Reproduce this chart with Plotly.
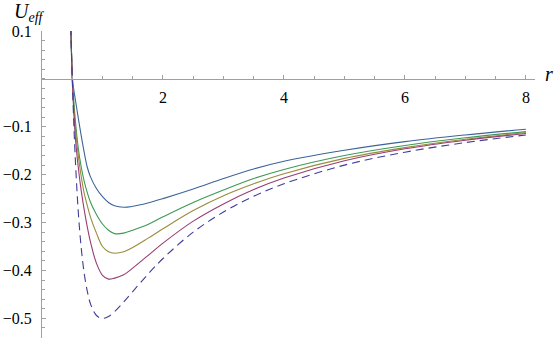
import plotly.graph_objects as go

# radius samples
r = [0.46, 0.48, 0.50, 0.52, 0.55, 0.60, 0.65, 0.70, 0.75, 0.80, 0.90, 1.00,
     1.10, 1.20, 1.35, 1.50, 1.75, 2.0, 2.5, 3.0, 3.5, 4.0, 5.0, 6.0, 7.0, 8.0]

u_blue = [0.19, 0.09, 0.005, -0.018, -0.042, -0.082, -0.120, -0.155, -0.185, -0.204,
          -0.229, -0.246, -0.258, -0.265, -0.268, -0.266, -0.259, -0.250, -0.230,
          -0.208, -0.188, -0.172, -0.149, -0.131, -0.117, -0.105]
u_green = [0.19, 0.09, 0.005, -0.035, -0.085, -0.145, -0.185, -0.215, -0.238, -0.257,
           -0.283, -0.303, -0.316, -0.323, -0.322, -0.316, -0.304, -0.288, -0.258,
           -0.232, -0.208, -0.189, -0.160, -0.139, -0.123, -0.110]
u_olive = [0.19, 0.09, 0.005, -0.048, -0.100, -0.160, -0.205, -0.240, -0.265, -0.288,
           -0.322, -0.350, -0.361, -0.364, -0.361, -0.352, -0.333, -0.313, -0.275,
           -0.244, -0.219, -0.198, -0.166, -0.1435, -0.126, -0.112]
u_pink = [0.19, 0.09, 0.003, -0.055, -0.120, -0.185, -0.235, -0.275, -0.310, -0.340,
          -0.385, -0.410, -0.418, -0.416, -0.409, -0.395, -0.369, -0.343, -0.297,
          -0.261, -0.231, -0.207, -0.171, -0.146, -0.128, -0.114]
u_dashed = [0.189, 0.087, 0.0, -0.074, -0.165, -0.278, -0.355, -0.408, -0.444, -0.469,
            -0.494, -0.500, -0.496, -0.486, -0.466, -0.444, -0.408, -0.375, -0.320,
            -0.278, -0.245, -0.219, -0.180, -0.153, -0.133, -0.117]

y_ticks = [-0.5, -0.4, -0.3, -0.2, -0.1, 0.1]
y_labels = ["\u22120.5", "\u22120.4", "\u22120.3", "\u22120.2", "\u22120.1", "0.1"]
x_ticks = [2, 4, 6, 8]

serif = "Liberation Serif"
y_lo, y_hi = -0.541, 0.1
axis_grey = "#a0a0a0"

fig = go.Figure()
for u, col in [(u_blue, "#3D6499"), (u_green, "#3D9956"),
               (u_olive, "#998C3D"), (u_pink, "#993D71")]:
    fig.add_trace(go.Scatter(x=r, y=u, mode="lines",
                             line=dict(color=col, width=1.1, shape="spline", smoothing=1)))
fig.add_trace(go.Scatter(x=r, y=u_dashed, mode="lines",
                         line=dict(color="#3F3D99", width=1.1, dash="8px,5px",
                                   shape="spline", smoothing=1)))

fig.update_layout(
    width=557, height=343,
    margin=dict(l=42, r=22, t=31, b=5, autoexpand=False),
    paper_bgcolor="white", plot_bgcolor="white",
    showlegend=False,
    font=dict(family=serif, size=16, color="black"),
)
fig.update_xaxes(
    range=[0, 8.15], anchor="free", position=(0 - y_lo) / (y_hi - y_lo),
    automargin=False,
    showgrid=False, zeroline=False, showline=True, linecolor=axis_grey, linewidth=1,
    tickvals=x_ticks, ticks="inside", ticklen=4, tickcolor=axis_grey,
    tickfont=dict(family=serif, size=16, color="black"),
    ticklabelstandoff=4,
    minor=dict(dtick=0.5, ticks="inside", ticklen=2.5, tickcolor=axis_grey),
)
fig.update_yaxes(
    range=[y_lo, y_hi], automargin=False,
    showgrid=False, zeroline=False, showline=True, linecolor=axis_grey, linewidth=1,
    tickvals=y_ticks, ticktext=y_labels, ticks="inside", ticklen=4, tickcolor=axis_grey,
    tickfont=dict(family=serif, size=16, color="black"),
    ticklabelstandoff=6,
    minor=dict(dtick=0.02, ticks="inside", ticklen=2.5, tickcolor=axis_grey),
)

fig.add_annotation(text="<i>U</i><sub><i>eff</i></sub>", xref="paper", yref="paper",
                   x=-0.061, y=1.013, xanchor="left", yanchor="bottom", showarrow=False,
                   font=dict(family=serif, size=20))
fig.add_annotation(text="<i>r</i>", xref="paper", yref="y", x=1.016, y=0.011,
                   xanchor="left", yanchor="middle", showarrow=False,
                   font=dict(family=serif, size=20))

# drop the default 8px page margin so the figure sits at the window corner
fig.write_html("out.html", config={"displayModeBar": False},
               post_script="document.body.style.margin='0';")
